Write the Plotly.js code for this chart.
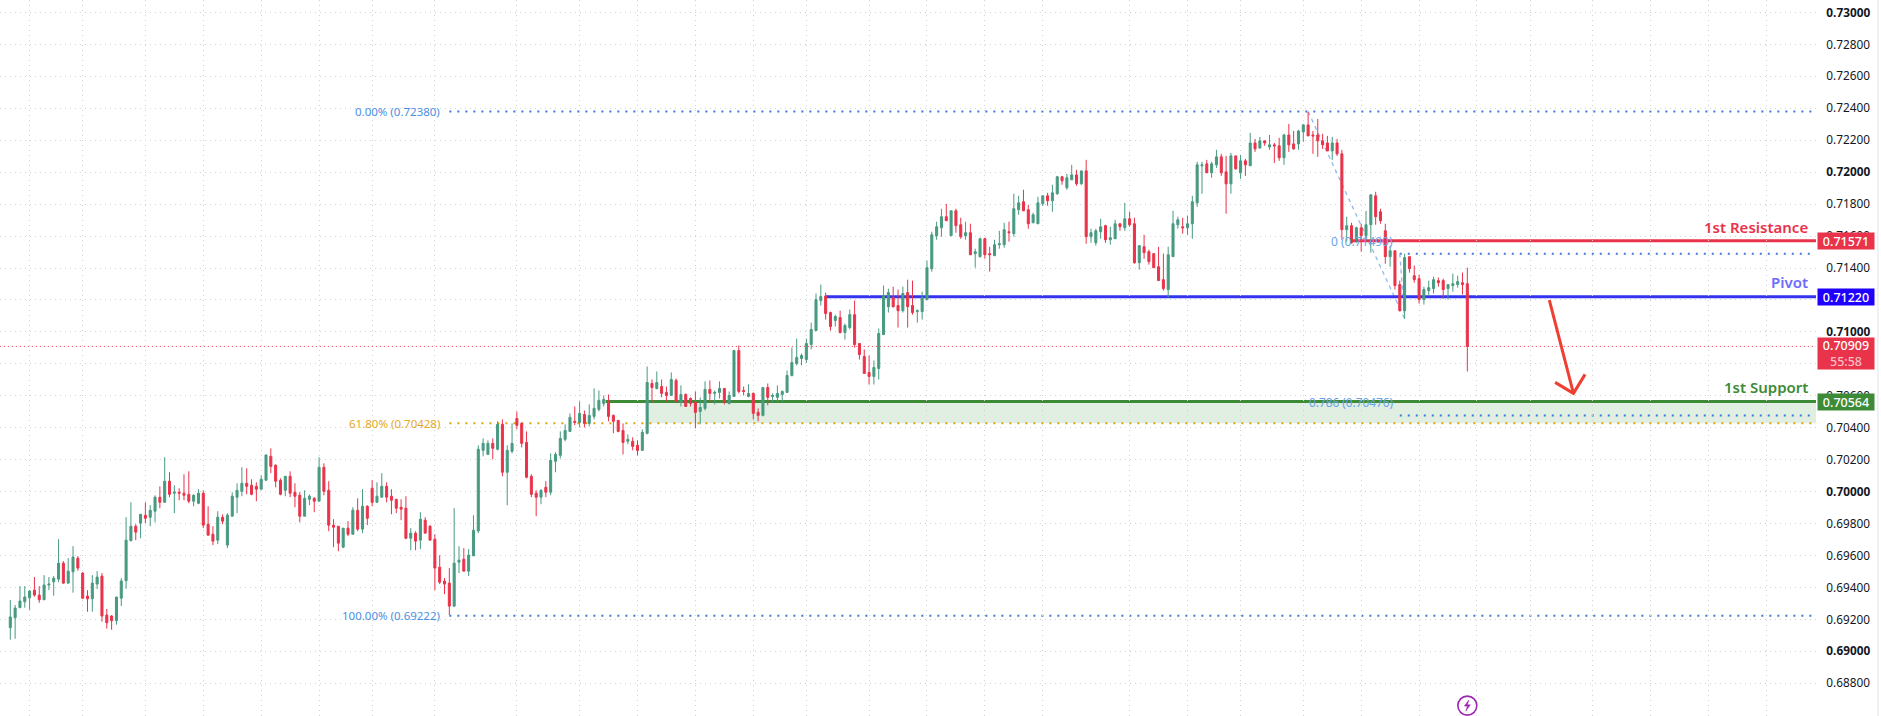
<!DOCTYPE html>
<html><head><meta charset="utf-8">
<script src="https://cdn.plot.ly/plotly-3.0.1.min.js"></script>
<style>html,body{margin:0;padding:0;background:#fff;overflow:hidden}#chart{width:1881px;height:716px}</style>
</head><body><div id="chart"></div>
<script>
const opens=[0.69148,0.69210,0.69273,0.69310,0.69335,0.69383,0.69352,0.69323,0.69415,0.69435,0.69452,0.69552,0.69427,0.69498,0.69583,0.69490,0.69346,0.69329,0.69421,0.69471,0.69227,0.69221,0.69192,0.69333,0.69442,0.69692,0.69783,0.69802,0.69852,0.69840,0.69877,0.69965,0.69933,0.70065,0.69990,0.69996,0.69990,0.69983,0.69940,0.69927,0.69990,0.69796,0.69733,0.69696,0.69840,0.69665,0.69846,0.69965,0.70002,0.70052,0.70040,0.70033,0.70015,0.70071,0.70221,0.70165,0.70071,0.70008,0.70096,0.69996,0.69977,0.69846,0.69952,0.69958,0.69940,0.70152,0.70008,0.69790,0.69783,0.69652,0.69771,0.69733,0.69883,0.69765,0.69908,0.70021,0.69933,0.69965,0.70033,0.69971,0.69952,0.69902,0.69896,0.69708,0.69740,0.69696,0.69821,0.69783,0.69702,0.69527,0.69440,0.69427,0.69283,0.69558,0.69577,0.69502,0.69598,0.69754,0.70258,0.70233,0.70302,0.70265,0.70421,0.70121,0.70252,0.70458,0.70427,0.70308,0.70096,0.69990,0.69965,0.70027,0.69996,0.70190,0.70227,0.70327,0.70377,0.70440,0.70433,0.70483,0.70427,0.70471,0.70515,0.70552,0.70571,0.70477,0.70446,0.70383,0.70315,0.70315,0.70290,0.70258,0.70365,0.70677,0.70646,0.70658,0.70621,0.70602,0.70696,0.70558,0.70608,0.70583,0.70558,0.70502,0.70521,0.70640,0.70615,0.70621,0.70646,0.70552,0.70596,0.70883,0.70633,0.70596,0.70615,0.70496,0.70477,0.70652,0.70596,0.70590,0.70608,0.70621,0.70727,0.70802,0.70833,0.70827,0.70921,0.71008,0.71196,0.71225,0.71121,0.71071,0.71090,0.70996,0.71027,0.71108,0.70927,0.70846,0.70746,0.70721,0.70771,0.70983,0.71158,0.71215,0.71165,0.71133,0.71246,0.71165,0.71127,0.71127,0.71202,0.71396,0.71602,0.71652,0.71721,0.71602,0.71758,0.71671,0.71602,0.71621,0.71490,0.71471,0.71583,0.71490,0.71477,0.71546,0.71546,0.71627,0.71615,0.71765,0.71815,0.71765,0.71683,0.71677,0.71802,0.71852,0.71821,0.71865,0.71971,0.71902,0.71952,0.71983,0.71927,0.72008,0.71596,0.71558,0.71627,0.71665,0.71577,0.71583,0.71677,0.71652,0.71708,0.71677,0.71433,0.71533,0.71502,0.71490,0.71408,0.71327,0.71265,0.71471,0.71671,0.71658,0.71652,0.71677,0.71808,0.72040,0.72052,0.71996,0.72046,0.72096,0.72002,0.71927,0.72102,0.71996,0.72071,0.72040,0.72183,0.72152,0.72196,0.72158,0.72171,0.72165,0.72090,0.72233,0.72177,0.72177,0.72252,0.72296,0.72233,0.72233,0.72196,0.72183,0.72133,0.72183,0.72115,0.71640,0.71665,0.71577,0.71652,0.71602,0.71671,0.71852,0.71752,0.71633,0.71471,0.71508,0.71296,0.71133,0.71471,0.71352,0.71333,0.71202,0.71258,0.71271,0.71321,0.71321,0.71271,0.71290,0.71296,0.71308,0.71302];
const highs=[0.69321,0.69290,0.69408,0.69408,0.69383,0.69465,0.69408,0.69477,0.69465,0.69471,0.69702,0.69565,0.69583,0.69658,0.69596,0.69496,0.69383,0.69477,0.69502,0.69490,0.69265,0.69227,0.69340,0.69458,0.69840,0.69933,0.69796,0.69858,0.69933,0.69915,0.69977,0.70033,0.70215,0.70121,0.70040,0.70021,0.70108,0.70127,0.69983,0.70015,0.70008,0.69908,0.69783,0.69877,0.69858,0.69865,0.69996,0.70052,0.70152,0.70146,0.70077,0.70058,0.70102,0.70233,0.70271,0.70171,0.70083,0.70096,0.70127,0.70052,0.69996,0.70008,0.69983,0.69965,0.70215,0.70177,0.70065,0.69827,0.69783,0.69771,0.69815,0.69902,0.69958,0.70015,0.69915,0.70071,0.70058,0.70115,0.70058,0.70015,0.69952,0.69952,0.69971,0.69771,0.69752,0.69871,0.69840,0.69790,0.69733,0.69602,0.69458,0.69521,0.69896,0.69658,0.69646,0.69640,0.69852,0.70290,0.70333,0.70321,0.70333,0.70440,0.70452,0.70290,0.70427,0.70502,0.70433,0.70377,0.70108,0.70008,0.70015,0.70065,0.70240,0.70246,0.70377,0.70421,0.70490,0.70533,0.70565,0.70508,0.70546,0.70646,0.70633,0.70602,0.70608,0.70483,0.70446,0.70427,0.70358,0.70340,0.70321,0.70390,0.70783,0.70702,0.70752,0.70702,0.70658,0.70746,0.70708,0.70665,0.70615,0.70590,0.70627,0.70590,0.70690,0.70696,0.70633,0.70690,0.70646,0.70627,0.70888,0.70915,0.70658,0.70671,0.70621,0.70521,0.70652,0.70677,0.70615,0.70665,0.70633,0.70758,0.70902,0.70958,0.70865,0.70958,0.71058,0.71240,0.71296,0.71246,0.71127,0.71108,0.71133,0.71052,0.71140,0.71196,0.70927,0.70890,0.70852,0.70821,0.71021,0.71290,0.71271,0.71283,0.71265,0.71283,0.71327,0.71321,0.71140,0.71252,0.71446,0.71627,0.71690,0.71771,0.71802,0.71758,0.71771,0.71715,0.71690,0.71677,0.71521,0.71590,0.71590,0.71533,0.71577,0.71633,0.71683,0.71690,0.71865,0.71852,0.71890,0.71796,0.71746,0.71846,0.71852,0.71871,0.71921,0.71977,0.71977,0.71990,0.72046,0.72015,0.72008,0.72077,0.71646,0.71646,0.71708,0.71671,0.71658,0.71702,0.71677,0.71808,0.71752,0.71715,0.71540,0.71608,0.71515,0.71490,0.71533,0.71490,0.71533,0.71758,0.71721,0.71715,0.71727,0.71852,0.72065,0.72065,0.72077,0.72065,0.72140,0.72115,0.72102,0.72121,0.72102,0.72108,0.72083,0.72246,0.72208,0.72221,0.72196,0.72233,0.72183,0.72215,0.72240,0.72302,0.72258,0.72265,0.72302,0.72377,0.72258,0.72333,0.72240,0.72227,0.72221,0.72208,0.72140,0.71721,0.71683,0.71658,0.71677,0.71758,0.71858,0.71877,0.71771,0.71677,0.71540,0.71508,0.71321,0.71490,0.71471,0.71415,0.71358,0.71283,0.71321,0.71346,0.71340,0.71333,0.71296,0.71365,0.71352,0.71371,0.71402];
const lows=[0.69073,0.69079,0.69273,0.69273,0.69260,0.69342,0.69304,0.69321,0.69383,0.69348,0.69433,0.69423,0.69423,0.69367,0.69504,0.69327,0.69248,0.69248,0.69390,0.69185,0.69142,0.69135,0.69167,0.69283,0.69392,0.69690,0.69696,0.69708,0.69802,0.69783,0.69808,0.69896,0.69933,0.69965,0.69865,0.69946,0.69946,0.69927,0.69908,0.69921,0.69771,0.69727,0.69665,0.69671,0.69796,0.69646,0.69846,0.69865,0.69971,0.69983,0.69977,0.69940,0.70015,0.70071,0.70115,0.70027,0.69977,0.69971,0.69965,0.69902,0.69808,0.69846,0.69915,0.69871,0.69940,0.69977,0.69752,0.69652,0.69627,0.69646,0.69721,0.69733,0.69752,0.69740,0.69790,0.69908,0.69933,0.69965,0.69933,0.69858,0.69865,0.69821,0.69702,0.69633,0.69633,0.69640,0.69740,0.69696,0.69383,0.69421,0.69358,0.69227,0.69277,0.69490,0.69502,0.69471,0.69598,0.69740,0.70221,0.70233,0.70202,0.70258,0.70096,0.69915,0.70240,0.70390,0.70277,0.70083,0.69965,0.69846,0.69921,0.69965,0.69977,0.70121,0.70208,0.70315,0.70377,0.70415,0.70402,0.70402,0.70408,0.70452,0.70502,0.70533,0.70440,0.70365,0.70371,0.70233,0.70296,0.70258,0.70227,0.70258,0.70358,0.70558,0.70640,0.70590,0.70565,0.70602,0.70558,0.70533,0.70533,0.70533,0.70396,0.70421,0.70508,0.70558,0.70546,0.70583,0.70546,0.70546,0.70596,0.70615,0.70602,0.70590,0.70452,0.70440,0.70471,0.70540,0.70558,0.70558,0.70558,0.70621,0.70721,0.70790,0.70790,0.70806,0.70890,0.71008,0.71165,0.71077,0.71008,0.71033,0.70990,0.70952,0.71015,0.70902,0.70827,0.70740,0.70671,0.70671,0.70702,0.70983,0.71121,0.71152,0.71027,0.71121,0.71027,0.71108,0.71058,0.71077,0.71202,0.71377,0.71577,0.71596,0.71696,0.71602,0.71621,0.71583,0.71577,0.71483,0.71402,0.71465,0.71458,0.71377,0.71477,0.71521,0.71527,0.71565,0.71596,0.71733,0.71758,0.71646,0.71683,0.71677,0.71790,0.71790,0.71752,0.71858,0.71921,0.71890,0.71952,0.71915,0.71921,0.71552,0.71558,0.71540,0.71583,0.71558,0.71546,0.71583,0.71633,0.71633,0.71658,0.71427,0.71390,0.71458,0.71421,0.71402,0.71321,0.71258,0.71215,0.71471,0.71646,0.71615,0.71608,0.71583,0.71783,0.71865,0.71996,0.71965,0.72027,0.71977,0.71740,0.71865,0.72015,0.71958,0.71977,0.72040,0.72127,0.72146,0.72165,0.72140,0.72058,0.72071,0.72046,0.72127,0.72140,0.72140,0.72190,0.72227,0.72115,0.72096,0.72146,0.72133,0.72077,0.72102,0.71577,0.71565,0.71552,0.71558,0.71502,0.71571,0.71496,0.71671,0.71677,0.71427,0.71408,0.71265,0.71127,0.71083,0.71371,0.71308,0.71177,0.71171,0.71227,0.71240,0.71283,0.71208,0.71202,0.71252,0.71277,0.71233,0.70752];
const closes=[0.69215,0.69271,0.69315,0.69340,0.69377,0.69352,0.69323,0.69415,0.69421,0.69458,0.69552,0.69427,0.69502,0.69590,0.69521,0.69333,0.69329,0.69427,0.69465,0.69221,0.69179,0.69192,0.69340,0.69440,0.69696,0.69783,0.69746,0.69858,0.69833,0.69883,0.69965,0.69933,0.70065,0.69983,0.69996,0.69990,0.69977,0.69940,0.69977,0.69990,0.69790,0.69727,0.69690,0.69840,0.69815,0.69852,0.69971,0.70008,0.70052,0.70033,0.69983,0.70015,0.70077,0.70229,0.70158,0.70065,0.69983,0.70096,0.69990,0.69971,0.69846,0.69958,0.69971,0.69940,0.70152,0.70002,0.69790,0.69777,0.69677,0.69771,0.69733,0.69883,0.69765,0.69908,0.69833,0.69933,0.69971,0.70033,0.69965,0.69946,0.69896,0.69890,0.69708,0.69740,0.69690,0.69827,0.69740,0.69696,0.69521,0.69433,0.69421,0.69283,0.69552,0.69571,0.69502,0.69602,0.69758,0.70265,0.70302,0.70302,0.70271,0.70421,0.70121,0.70258,0.70302,0.70415,0.70302,0.70090,0.69983,0.69965,0.70008,0.69996,0.70196,0.70233,0.70333,0.70383,0.70465,0.70433,0.70490,0.70427,0.70477,0.70521,0.70571,0.70577,0.70471,0.70440,0.70377,0.70308,0.70327,0.70283,0.70258,0.70371,0.70683,0.70652,0.70683,0.70615,0.70602,0.70702,0.70565,0.70608,0.70533,0.70552,0.70496,0.70527,0.70640,0.70615,0.70621,0.70646,0.70558,0.70602,0.70883,0.70627,0.70627,0.70615,0.70490,0.70477,0.70652,0.70590,0.70602,0.70615,0.70627,0.70727,0.70808,0.70840,0.70852,0.70927,0.71015,0.71202,0.71221,0.71115,0.71033,0.71096,0.70996,0.71040,0.71108,0.70921,0.70858,0.70740,0.70721,0.70777,0.70990,0.71227,0.71246,0.71158,0.71133,0.71240,0.71158,0.71121,0.71133,0.71215,0.71402,0.71608,0.71658,0.71721,0.71696,0.71758,0.71665,0.71596,0.71621,0.71483,0.71502,0.71583,0.71483,0.71483,0.71546,0.71552,0.71640,0.71621,0.71771,0.71808,0.71758,0.71677,0.71733,0.71808,0.71852,0.71821,0.71871,0.71971,0.71946,0.71965,0.71983,0.71927,0.72008,0.71596,0.71621,0.71633,0.71658,0.71577,0.71590,0.71677,0.71658,0.71708,0.71671,0.71433,0.71540,0.71496,0.71440,0.71402,0.71321,0.71271,0.71483,0.71677,0.71702,0.71652,0.71677,0.71815,0.72046,0.72046,0.71996,0.72052,0.72096,0.71996,0.71927,0.72102,0.72021,0.72071,0.72046,0.72183,0.72146,0.72196,0.72183,0.72171,0.72165,0.72090,0.72233,0.72171,0.72146,0.72258,0.72296,0.72227,0.72227,0.72196,0.72171,0.72133,0.72183,0.72115,0.71640,0.71665,0.71558,0.71652,0.71602,0.71671,0.71858,0.71721,0.71696,0.71471,0.71508,0.71290,0.71133,0.71465,0.71396,0.71327,0.71202,0.71265,0.71277,0.71327,0.71308,0.71265,0.71296,0.71302,0.71315,0.71296,0.70909];

const tickValues=[0.686,0.688,0.690,0.692,0.694,0.696,0.698,0.700,0.702,0.704,0.706,0.708,0.710,0.712,0.714,0.716,0.718,0.720,0.722,0.724,0.726,0.728,0.730];
const tickLabels=['0.68600','0.68800','<b>0.69000</b>','0.69200','0.69400','0.69600','0.69800','<b>0.70000</b>','0.70200','0.70400','0.70600','0.70800','<b>0.71000</b>','0.71200','0.71400','0.71600','0.71800','<b>0.72000</b>','0.72200','0.72400','0.72600','0.72800','<b>0.73000</b>'];
const timeGridBars=[4,15,28,40,52,64,75,88,105,118,130,142,154,165,178,190,202,214,232,244,255,268,280,292,304,315,328,340,352,364];

const resistance=0.71571, pivot=0.71220, support=0.70564, lastPrice=0.70909;
const fibHigh=0.72380, fibLow=0.69222, fib618=0.70428, fibSecond0=0.71490, fibSecond786=0.70476;
const GREEN='#479a80', RED='#e9334a', BLUE='#3b7ad9', ORANGE='#e0a012', FONT='"Noto Sans",sans-serif';
const barIndex=opens.map((_,i)=>i);
const xEnd=374.27, fibEnd=373.7;

function hLine(x0,x1,y,color,width,dash){return {type:'line',layer:'below',xref:'x',yref:'y',x0:x0,x1:x1,y0:y,y1:y,line:{color:color,width:width,dash:dash||'solid'}};}
function seg(x0,y0,x1,y1){return {type:'line',layer:'below',xref:'x',yref:'y',x0:x0,x1:x1,y0:y0,y1:y1,line:{color:'#8fbbef',width:1.3,dash:'4px,4px'}};}
const DOT='2px,6px';
const shapes=[
 {type:'rect',layer:'below',xref:'x',yref:'y',x0:132,x1:xEnd,y0:fib618,y1:support,fillcolor:'rgba(56,142,60,0.15)',line:{width:0}},
 hLine(-3,xEnd,lastPrice,RED,1,'1px,3px'),
 hLine(91,fibEnd,fibHigh,BLUE,2,DOT),
 hLine(91,fibEnd,fibLow,BLUE,2,DOT),
 hLine(91,fibEnd,fib618,ORANGE,2,DOT),
 hLine(288,fibEnd,fibSecond0,BLUE,2,DOT),
 hLine(288,fibEnd,fibSecond786,BLUE,2,DOT),
 seg(269,fibHigh,289,0.71083),
 seg(288,fibSecond0,289,0.71083),
 hLine(278.3,xEnd,resistance,'#e9334a',3),
 hLine(169,xEnd,pivot,'#3333f0',3),
 hLine(123.4,xEnd,support,'#3e8b37',3),
 {type:'line',xref:'paper',yref:'paper',x0:1.0341,x1:1.0341,y0:0,y1:1,line:{color:'#e0e3eb',width:1}},
 {type:'circle',xref:'x',yref:'y',xsizemode:'pixel',ysizemode:'pixel',xanchor:302,yanchor:0.68660,x0:-9.5,x1:9.5,y0:-9.5,y1:9.5,line:{color:'#9c27b0',width:1.6},fillcolor:'#ffffff'},
 {type:'path',xref:'x',yref:'y',xsizemode:'pixel',ysizemode:'pixel',xanchor:302,yanchor:0.68660,path:'M 1.5 5.5 L -3 -0.5 L 0 -0.5 L -1.5 -5.5 L 3 0.8 L 0 0.8 Z',fillcolor:'#9c27b0',line:{color:'#9c27b0',width:0.5}}
];

function note(x,y,text,color,size,weight){return {xref:'x',yref:'y',x:x,y:y,text:text,showarrow:false,xanchor:'right',yanchor:'middle',font:{family:FONT,size:size,color:color,weight:weight||400}};}
function tag(y,text,bg){return {xref:'paper',yref:'y',x:1,y:y,xshift:1,xanchor:'left',yanchor:'middle',text:text,showarrow:false,bgcolor:bg,width:56,height:16,borderpad:0,align:'center',font:{family:FONT,size:12.5,color:'#ffffff',weight:500}};}
const annotations=[
 note(89.5,fibHigh,'0.00% (0.72380)','#4a90e2',11.5),
 note(89.5,fib618,'61.80% (0.70428)','#e5a823',11.5),
 note(89.5,fibLow,'100.00% (0.69222)','#4a90e2',11.5),
 note(287,0.71567,'0 (0.71490)','#6aa5ea',12),
 note(287.1,0.70564-0.00006,'0.786 (0.70476)','#6aa5ea',11.8),
 note(373,0.71655,'1st Resistance','#e9334a',15,600),
 note(373,0.71312,'Pivot','#6b6bff',15,600),
 note(373,0.70657,'1st Support','#3e8b37',15,600),
 tag(resistance,'0.71571','#e9334a'),
 tag(pivot,'0.71220','#1f00ff'),
 tag(support,'0.70564','#3e8b37'),
 {xref:'paper',yref:'y',x:1,y:0.70867,xshift:1,xanchor:'left',yanchor:'middle',text:'0.70909<br><span style="color:#f8bcc4">55:58</span>',showarrow:false,bgcolor:'#e9334a',width:56,height:31,borderpad:0,align:'center',font:{family:FONT,size:12.5,color:'#ffffff',weight:500}}
];

const arrowX=[319,324,null,320.2,324,326.4];
const arrowY=[0.71199,0.70615,null,0.70684,0.70615,0.70734];

const traces=[
 {type:'candlestick',x:barIndex,open:opens,high:highs,low:lows,close:closes,
  increasing:{line:{color:GREEN,width:1},fillcolor:GREEN},
  decreasing:{line:{color:RED,width:1},fillcolor:RED},whiskerwidth:0,hoverinfo:'skip',showlegend:false},
 {type:'scatter',mode:'lines',x:arrowX,y:arrowY,line:{color:'#ef3f33',width:3},hoverinfo:'skip',showlegend:false,connectgaps:false}
];
const gridDash='1px,4px';
const layout={
 width:1881,height:716,margin:{l:0,r:65,t:0,b:0,pad:0},paper_bgcolor:'#fff',plot_bgcolor:'#fff',showlegend:false,boxgap:0.4,
 xaxis:{type:'linear',range:[-2.135,xEnd],rangeslider:{visible:false},showticklabels:false,ticks:'',tickmode:'array',tickvals:timeGridBars,showgrid:true,gridcolor:'#cfd2d6',griddash:gridDash,gridwidth:1,zeroline:false,showline:false,fixedrange:true},
 yaxis:{type:'linear',side:'right',range:[0.68595,0.73078],tickmode:'array',tickvals:tickValues,ticktext:tickLabels,showgrid:true,gridcolor:'#cfd2d6',griddash:gridDash,gridwidth:1,zeroline:false,showline:false,ticks:'outside',ticklen:7,tickcolor:'rgba(0,0,0,0)',tickfont:{family:FONT,size:11.8,color:'#131722'},fixedrange:true},
 shapes:shapes,annotations:annotations
};
Plotly.newPlot('chart',traces,layout,{displayModeBar:false,staticPlot:true,responsive:false});
</script></body></html>
